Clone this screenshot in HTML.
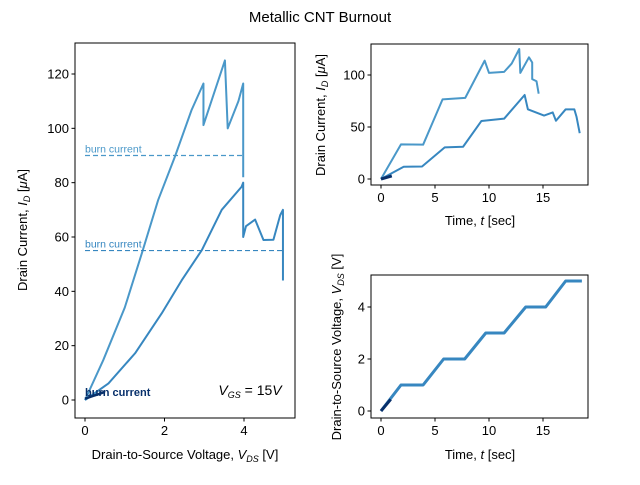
<!DOCTYPE html>
<html><head><meta charset="utf-8"><style>
body{margin:0;background:#fff}
svg{font-family:"Liberation Sans","DejaVu Sans",sans-serif}
</style></head><body>
<svg id="fig" width="640" height="480" viewBox="0 0 640 480">
<rect width="640" height="480" fill="#fff"/>
<text x="320" y="22" font-size="15" text-anchor="middle">Metallic CNT Burnout</text>
<g id="g"></g>
</svg>
<script>
// Left: drain current vs drain-source voltage
const ivUpperV = [0,0.46,1.0,1.43,1.84,2.26,2.68,2.98,2.98,3.27,3.52,3.59,3.86,3.98,3.98];
const ivUpperI = [0,14.7,34,54,73.6,89.5,106.7,116.5,101.2,114,125,100,110,116.5,82];
const ivLowerV = [0,0.59,1.26,1.93,2.43,2.94,3.44,3.94,3.98,3.98,4.05,4.28,4.49,4.74,4.91,4.98,4.98];
const ivLowerI = [0,6.1,17.2,31.9,44,55.2,70,78.5,80,60,64,66.4,58.9,59,68,70,44];
const ivDarkV = [0,0.2,0.35,0.5];
const ivDarkI = [0.5,1.5,2.2,3];
const burnCurrents = [90,55,3];
const burnEndV = [4,5,0.5];
// Top right: current vs time
const tUpper = [0,1.85,3.9,5.7,7.8,9.6,10,11.4,12.1,12.8,12.9,13.7,14,14,14.4,14.6];
const iUpper = [0,33.3,33,76.6,78,113.8,102,103,111,125,102,117,112,96,94,82];
const tLower = [0,2.1,3.8,5.9,7.6,9.3,11.4,13.3,13.6,15.1,15.9,16.2,17.1,17.9,18.1,18.4];
const iLower = [0,11.8,12,30.4,31,55.8,58,80.8,67,61,64,56,67,67,60,44];
const tDark = [0,1];
const iDark = [0,3];
// Bottom right: voltage vs time
const tV = [0,1.85,3.9,5.8,7.75,9.7,11.4,13.4,15.25,17.1,18.6];
const vV = [0,1,1,2,2,3,3,4,4,5,5];
const tVDark = [0,0.9];
const vVDark = [0,0.45];

const NS="http://www.w3.org/2000/svg";
const G=document.getElementById('g');
function mk(tag,attrs,parent){const e=document.createElementNS(NS,tag);for(const k in attrs)e.setAttribute(k,attrs[k]);(parent||G).appendChild(e);return e;}
function lin(d0,d1,r0,r1){return v=>r0+(v-d0)*(r1-r0)/(d1-d0);}
function axes(name,x0,y0,x1,y1){const r=mk('rect',{x:x0,y:y0,width:x1-x0,height:y1-y0,fill:'none',stroke:'#000','stroke-width':1});

}
function xticks(name,vals,sx,yb){vals.forEach(v=>{const l=mk('line',{x1:sx(v),x2:sx(v),y1:yb,y2:yb+3.5,stroke:'#000'});


const t=mk('text',{x:sx(v),y:yb+17,'font-size':13,'text-anchor':'middle'});t.textContent=v;

});}
function yticks(name,vals,sy,xl){vals.forEach(v=>{const l=mk('line',{x1:xl-3.5,x2:xl,y1:sy(v),y2:sy(v),stroke:'#000'});


const t=mk('text',{x:xl-6,y:sy(v)+4.5,'font-size':13,'text-anchor':'end'});t.textContent=v;

});}
function line(name,xs,ys,sx,sy,color,w,dash){const p=mk('polyline',{points:xs.map((x,i)=>sx(x)+','+sy(ys[i])).join(' '),fill:'none',stroke:color,'stroke-width':w,'stroke-linejoin':'round'});
if(dash)p.setAttribute('stroke-dasharray',dash);

return p;}
function label(name,x,y,txt,opts){const t=mk('text',Object.assign({x:x,y:y,'font-size':13,'text-anchor':'middle'},opts||{}));t.innerHTML=txt;

return t;}

const C1='#4a98c9',C2='#3787c0',CD='#08306b';
// Left
let sx=lin(0,4,85,244), sy=lin(0,120,400,74);
line('iv-upper-series',ivUpperV,ivUpperI,sx,sy,C1,2);
line('iv-lower-series',ivLowerV,ivLowerI,sx,sy,C2,2);
line('iv-dark-series',ivDarkV,ivDarkI,sx,sy,CD,2.5);
const bcol=[C1,C2,CD];
burnCurrents.forEach((b,i)=>{
 if(i<2){line('burn-current-line',[0,burnEndV[i]],[b,b],sx,sy,bcol[i],1.2,'5,3');}
 label('burn-current-label',sx(0),sy(b)-(i<2?3:-4),'burn current',{'text-anchor':'start','font-size':i<2?10.5:11,fill:bcol[i],'font-weight':i<2?'normal':'bold'});
});
label('vgs-annotation',250,395,'<tspan font-style="italic">V</tspan><tspan font-size="9" dy="3" font-style="italic">GS</tspan><tspan dy="-3"> = 15</tspan><tspan font-style="italic">V</tspan>',{'font-size':14});
axes('iv-axes',75,43,295,418);
xticks('iv-x',[0,2,4],sx,418);
yticks('iv-y',[0,20,40,60,80,100,120],sy,75);
label('iv-x-axis-title',185,459,'Drain-to-Source Voltage, <tspan font-style="italic">V</tspan><tspan font-size="9" dy="3" font-style="italic">DS</tspan><tspan dy="-3"> [V]</tspan>');
label('iv-y-axis-title',0,0,'Drain Current, <tspan font-style="italic">I</tspan><tspan font-size="9" dy="3" font-style="italic">D</tspan><tspan dy="-3"> [</tspan><tspan font-style="italic">μ</tspan>A]',{transform:'translate(27,230) rotate(-90)'});
// Top right
sx=lin(0,15,381,543); sy=lin(0,100,179,75);
line('it-upper-series',tUpper,iUpper,sx,sy,C1,2);
line('it-lower-series',tLower,iLower,sx,sy,C2,2);
line('it-dark-series',tDark,iDark,sx,sy,CD,3);
axes('it-axes',371,44,588,185);
xticks('it-x',[0,5,10,15],sx,185);
yticks('it-y',[0,50,100],sy,371);
label('it-x-axis-title',480,225,'Time, <tspan font-style="italic">t</tspan> [sec]');
label('it-y-axis-title',0,0,'Drain Current, <tspan font-style="italic">I</tspan><tspan font-size="9" dy="3" font-style="italic">D</tspan><tspan dy="-3"> [</tspan><tspan font-style="italic">μ</tspan>A]',{transform:'translate(325,115) rotate(-90)'});
// Bottom right
sy=lin(0,4,411,307);
line('vt-series',tV,vV,sx,sy,C2,3);
line('vt-dark-series',tVDark,vVDark,sx,sy,CD,3);
axes('vt-axes',371,275,588,418);
xticks('vt-x',[0,5,10,15],sx,418);
yticks('vt-y',[0,2,4],sy,371);
label('vt-x-axis-title',480,459,'Time, <tspan font-style="italic">t</tspan> [sec]');
label('vt-y-axis-title',0,0,'Drain-to-Source Voltage, <tspan font-style="italic">V</tspan><tspan font-size="9" dy="3" font-style="italic">DS</tspan><tspan dy="-3"> [V]</tspan>',{transform:'translate(341,347) rotate(-90)'});
</script>
</body></html>
